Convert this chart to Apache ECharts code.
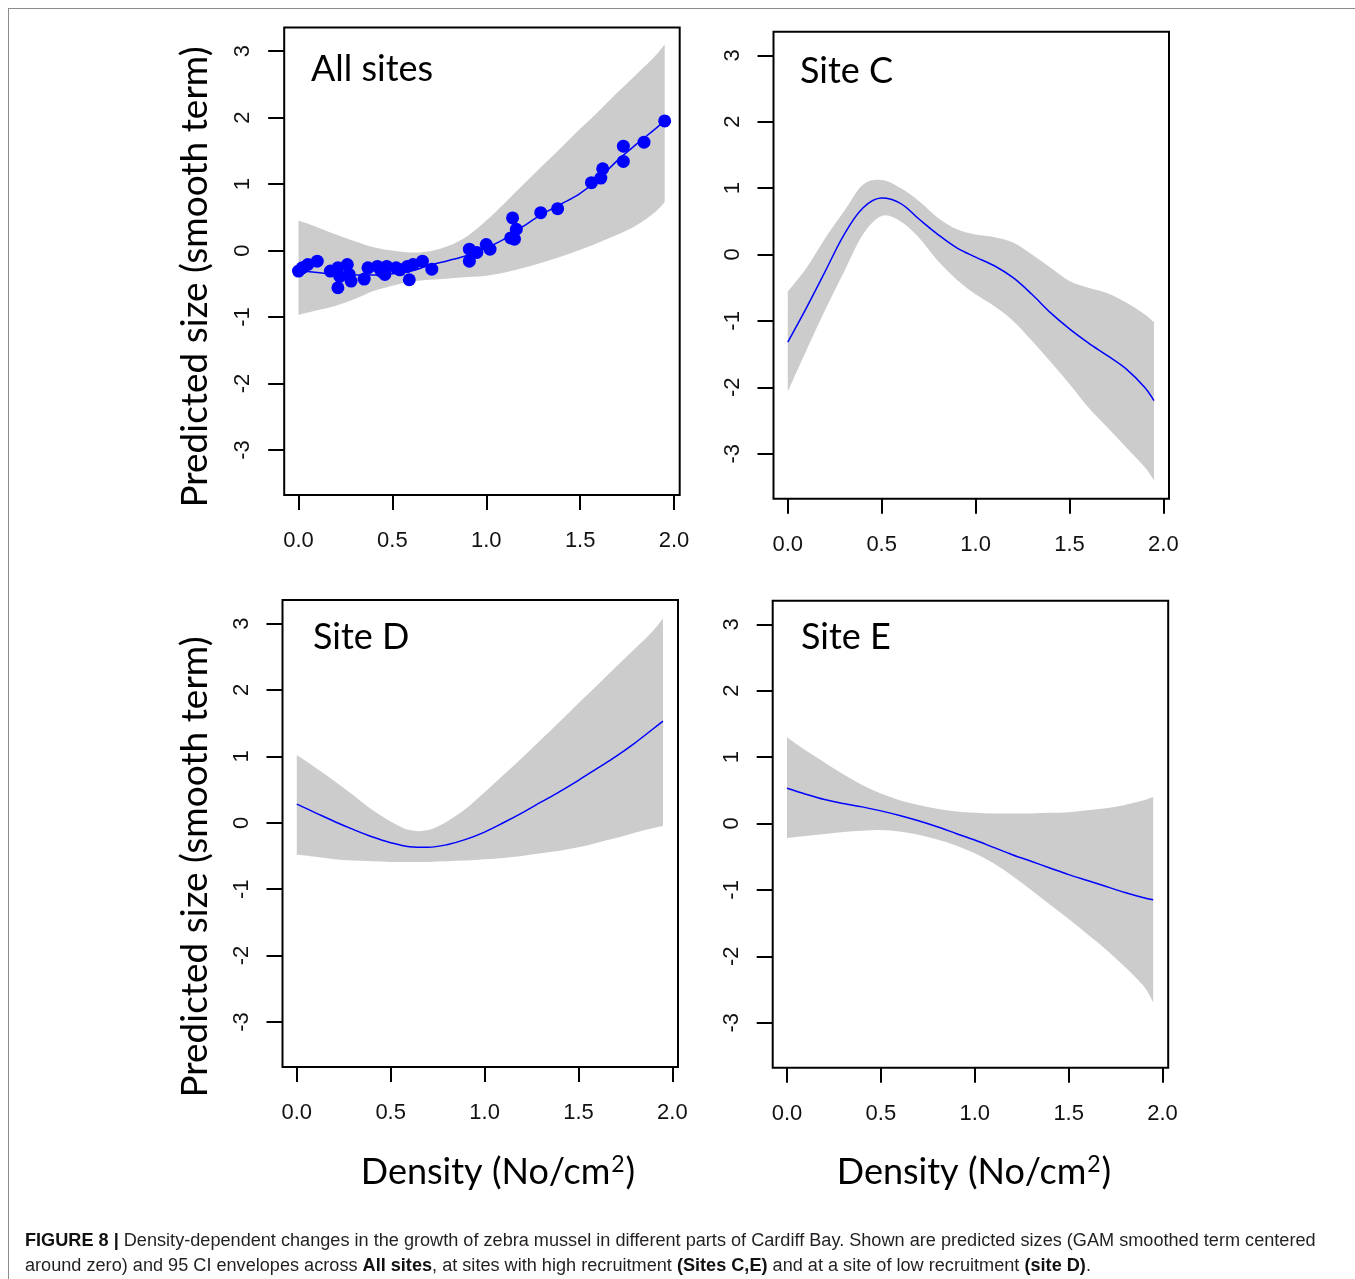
<!DOCTYPE html>
<html>
<head>
<meta charset="utf-8">
<script src="https://cdn.jsdelivr.net/npm/echarts@6/dist/echarts.min.js"></script>
<style>
  html, body { margin: 0; padding: 0; background: #fff; }
  #wrap { position: relative; width: 1355px; height: 1279px; overflow: hidden; }
  #chart { position: absolute; left: 0; top: 0; width: 1355px; height: 1215px; }
  #frame { position: absolute; left: 8px; top: 8px; width: 1400px; height: 1400px;
    border-left: 1px solid #8c8c8c; border-top: 1px solid #8c8c8c; pointer-events: none; }
  #cap { position: absolute; left: 25px; top: 1228px; font-family: 'Liberation Sans', Arial, sans-serif;
    font-size: 18px; line-height: 24.5px; color: #231f20; white-space: nowrap; transform-origin: 0 0; }
  #cap b { color: #111; }
</style>
</head>
<body>
<div id="wrap">
  <div id="chart"></div>
  <div id="frame"></div>
  <div id="cap">
    <div id="capL1"><b>FIGURE 8 |</b> Density-dependent changes in the growth of zebra mussel in different parts of Cardiff Bay. Shown are predicted sizes (GAM smoothed term centered</div>
    <div>around zero) and 95 CI envelopes across <b>All sites</b>, at sites with high recruitment <b>(Sites C,E)</b> and at a site of low recruitment <b>(site D)</b>.</div>
  </div>
</div>
<script>
  // ---------- data ----------
  const DENSITY = [0, 0.1, 0.2, 0.3, 0.4, 0.5, 0.6, 0.7, 0.8, 0.9, 1.0, 1.1, 1.2, 1.3, 1.4, 1.5, 1.6, 1.7, 1.8, 1.9, 1.95];
  const X_TICKS = [0, 0.5, 1, 1.5, 2];
  const Y_TICKS = [-3, -2, -1, 0, 1, 2, 3];
  const PANELS = ['All sites', 'Site C', 'Site D', 'Site E'];
  const Y_TITLE = 'Predicted size (smooth term)';
  const X_TITLE = 'Density (No/cm{sup|2})';

  // All sites
  const allFit   = [-0.30, -0.33, -0.36, -0.37, -0.37, -0.35, -0.31, -0.22, -0.15, -0.07, 0.04, 0.18, 0.37, 0.55, 0.70, 0.86, 1.08, 1.36, 1.60, 1.83, 1.95];
  const allUpper = [0.45, 0.35, 0.24, 0.14, 0.05, 0.00, -0.03, -0.01, 0.07, 0.22, 0.45, 0.72, 1.00, 1.28, 1.55, 1.83, 2.10, 2.38, 2.65, 2.93, 3.10];
  const allLower = [-0.97, -0.90, -0.83, -0.73, -0.61, -0.53, -0.47, -0.44, -0.42, -0.40, -0.38, -0.33, -0.26, -0.18, -0.09, 0.01, 0.12, 0.24, 0.38, 0.58, 0.73];
  const allObsX  = [0.00, 0.02, 0.05, 0.10, 0.17, 0.21, 0.22, 0.21, 0.26, 0.27, 0.28, 0.35, 0.37, 0.42, 0.44, 0.46, 0.47, 0.52, 0.54, 0.58, 0.59, 0.61, 0.66, 0.71,
                    0.91, 0.91, 0.95, 1.00, 1.02, 1.14, 1.13, 1.15, 1.16, 1.29, 1.38, 1.56, 1.61, 1.62, 1.73, 1.73, 1.84, 1.95];
  const allObsY  = [-0.31, -0.26, -0.21, -0.16, -0.31, -0.26, -0.39, -0.56, -0.21, -0.36, -0.46, -0.43, -0.26, -0.24, -0.31, -0.36, -0.24, -0.26, -0.29, -0.24, -0.44, -0.21, -0.16, -0.28,
                    0.02, -0.16, -0.03, 0.09, 0.02, 0.49, 0.19, 0.17, 0.32, 0.57, 0.63, 1.02, 1.09, 1.23, 1.34, 1.57, 1.63, 1.95];

  // Site C
  const cFit   = [-1.32, -0.80, -0.25, 0.30, 0.70, 0.85, 0.77, 0.53, 0.30, 0.10, -0.04, -0.17, -0.35, -0.60, -0.88, -1.12, -1.33, -1.52, -1.72, -2.00, -2.20];
  const cUpper = [-0.56, -0.20, 0.25, 0.65, 1.05, 1.12, 1.00, 0.80, 0.55, 0.38, 0.30, 0.26, 0.18, 0.00, -0.20, -0.40, -0.50, -0.58, -0.72, -0.90, -1.02];
  const cLower = [-2.07, -1.44, -0.83, -0.26, 0.30, 0.58, 0.50, 0.25, -0.10, -0.38, -0.60, -0.78, -1.00, -1.30, -1.62, -1.95, -2.30, -2.60, -2.90, -3.20, -3.40];

  // Site D
  const dFit   = [0.28, 0.15, 0.02, -0.10, -0.21, -0.30, -0.36, -0.37, -0.33, -0.25, -0.14, 0.00, 0.15, 0.31, 0.47, 0.64, 0.82, 1.00, 1.20, 1.42, 1.53];
  const dUpper = [1.02, 0.83, 0.63, 0.42, 0.20, 0.02, -0.11, -0.11, 0.02, 0.21, 0.46, 0.72, 0.98, 1.25, 1.52, 1.80, 2.07, 2.35, 2.62, 2.90, 3.08];
  const dLower = [-0.48, -0.51, -0.55, -0.57, -0.58, -0.59, -0.59, -0.59, -0.58, -0.57, -0.55, -0.53, -0.50, -0.46, -0.42, -0.37, -0.30, -0.23, -0.15, -0.08, -0.05];

  // Site E
  const eFit   = [0.53, 0.44, 0.36, 0.30, 0.25, 0.19, 0.12, 0.04, -0.05, -0.15, -0.25, -0.36, -0.47, -0.57, -0.67, -0.77, -0.86, -0.95, -1.04, -1.12, -1.15];
  const eUpper = [1.30, 1.10, 0.92, 0.74, 0.58, 0.45, 0.35, 0.28, 0.22, 0.18, 0.16, 0.15, 0.15, 0.15, 0.16, 0.17, 0.20, 0.23, 0.28, 0.35, 0.40];
  const eLower = [-0.22, -0.19, -0.16, -0.13, -0.11, -0.10, -0.12, -0.17, -0.24, -0.33, -0.45, -0.60, -0.79, -1.00, -1.22, -1.44, -1.67, -1.90, -2.16, -2.45, -2.69];

  // ---------- layout ----------
  const XMIN = -0.076, XMAX = 2.030, YMIN = -3.678, YMAX = 3.355;
  const BOXES = [
    { left: 284.2, top: 27.5, width: 395.5, height: 467.5 },
    { left: 773.5, top: 31.7, width: 395.5, height: 467 },
    { left: 282.5, top: 600,  width: 395.5, height: 467 },
    { left: 772.7, top: 600.7, width: 395.5, height: 467 }
  ];
  const TITLE_POS = [[311, 51], [800, 53], [313, 619], [801, 619]];
  const FONT_TXT = 'Lato, "Open Sans", sans-serif';
  const FONT_NUM = '"Liberation Sans", Arial, sans-serif';
  const BLUE = '#0000ff', BAND = '#cccccc';

  const chart = echarts.init(document.getElementById('chart'), null, { renderer: 'canvas' });

  function xAxis(i) {
    return {
      type: 'value', gridIndex: i, min: XMIN, max: XMAX,
      axisLine: { show: false, onZero: false }, splitLine: { show: false },
      axisTick: { show: true, length: 15, customValues: X_TICKS, lineStyle: { color: '#000', width: 2 } },
      axisLabel: { customValues: X_TICKS, formatter: v => v.toFixed(1), margin: 35,
        fontFamily: FONT_NUM, fontSize: 22, color: '#111' }
    };
  }
  function yAxis(i) {
    return {
      type: 'value', gridIndex: i, min: YMIN, max: YMAX,
      axisLine: { show: false, onZero: false }, splitLine: { show: false },
      axisTick: { show: true, length: 16, customValues: Y_TICKS, lineStyle: { color: '#000', width: 2 } },
      axisLabel: { customValues: Y_TICKS, rotate: 90, margin: 30,
        fontFamily: FONT_NUM, fontSize: 22, color: '#111' }
    };
  }

  // Catmull-Rom through pixel points -> cubic bezier segments (path continues from pts[0])
  function curveTo(pts) {
    let d = '';
    for (let k = 0; k < pts.length - 1; k++) {
      const p0 = pts[k - 1] || pts[k], p1 = pts[k], p2 = pts[k + 1], p3 = pts[k + 2] || p2;
      const c1x = p1[0] + (p2[0] - p0[0]) / 6, c1y = p1[1] + (p2[1] - p0[1]) / 6;
      const c2x = p2[0] - (p3[0] - p1[0]) / 6, c2y = p2[1] - (p3[1] - p1[1]) / 6;
      d += ' C ' + c1x + ' ' + c1y + ' ' + c2x + ' ' + c2y + ' ' + p2[0] + ' ' + p2[1];
    }
    return d;
  }

  // CI envelope: smooth edge along the upper values, back along the lower ones
  function band(i, lo, hi) {
    return {
      type: 'custom', xAxisIndex: i, yAxisIndex: i, silent: true, z: 1,
      data: [[DENSITY[0], lo[0]]],
      renderItem: function (params, api) {
        const up = DENSITY.map((x, k) => api.coord([x, hi[k]]));
        const dn = DENSITY.map((x, k) => api.coord([x, lo[k]])).reverse();
        const d = 'M ' + up[0][0] + ' ' + up[0][1] + curveTo(up) +
          ' L ' + dn[0][0] + ' ' + dn[0][1] + curveTo(dn) + ' Z';
        return { type: 'path', shape: { pathData: d }, style: { fill: BAND, stroke: null } };
      }
    };
  }
  function fit(i, ys) {
    return { type: 'line', xAxisIndex: i, yAxisIndex: i, smooth: 0.35,
      symbol: 'none', silent: true, lineStyle: { color: BLUE, width: 1.5 }, z: 3,
      data: DENSITY.map((x, k) => [x, ys[k]]) };
  }

  const series = [
    band(0, allLower, allUpper), fit(0, allFit),
    { type: 'scatter', xAxisIndex: 0, yAxisIndex: 0, symbol: 'circle', symbolSize: 13, silent: true, z: 4,
      itemStyle: { color: BLUE, opacity: 1 }, data: allObsX.map((x, k) => [x, allObsY[k]]) },
    band(1, cLower, cUpper), fit(1, cFit),
    band(2, dLower, dUpper), fit(2, dFit),
    band(3, eLower, eUpper), fit(3, eFit)
  ];

  // axis titles, placed like the figure (left column / bottom row only)
  const graphic = [
    { type: 'text', x: 195, y: 277, rotation: Math.PI / 2, silent: true,
      style: { text: Y_TITLE, fontFamily: FONT_TXT, fontSize: 37, fill: '#000', align: 'center', verticalAlign: 'middle' } },
    { type: 'text', x: 195, y: 867, rotation: Math.PI / 2, silent: true,
      style: { text: Y_TITLE, fontFamily: FONT_TXT, fontSize: 37, fill: '#000', align: 'center', verticalAlign: 'middle' } }
  ];
  [498, 974].forEach(cx => graphic.push({
    type: 'text', x: cx, y: 1172, silent: true,
    style: { text: X_TITLE, fontFamily: FONT_TXT, fontSize: 36, fill: '#000', align: 'center', verticalAlign: 'middle',
      rich: { sup: { fontFamily: FONT_TXT, fontSize: 23, fill: '#000', verticalAlign: 'top', padding: [0, 1, 14, 1] } } }
  }));

  chart.setOption({
    backgroundColor: 'transparent',
    animation: false,
    grid: BOXES.map(b => Object.assign({ show: true, borderColor: '#000', borderWidth: 2, backgroundColor: 'transparent' }, b)),
    xAxis: [0, 1, 2, 3].map(xAxis),
    yAxis: [0, 1, 2, 3].map(yAxis),
    title: PANELS.map((t, i) => ({
      text: t, left: TITLE_POS[i][0], top: TITLE_POS[i][1], padding: 0,
      textStyle: { fontFamily: FONT_TXT, fontSize: 36, fontWeight: 'normal', color: '#000' }
    })),
    graphic: graphic,
    series: series
  });

  // squeeze caption to the narrow width used in the figure
  const cap = document.getElementById('cap');
  const w1 = document.getElementById('capL1').scrollWidth;
  cap.style.transform = 'scaleX(' + (1291 / w1).toFixed(4) + ')';
</script>
</body>
</html>
